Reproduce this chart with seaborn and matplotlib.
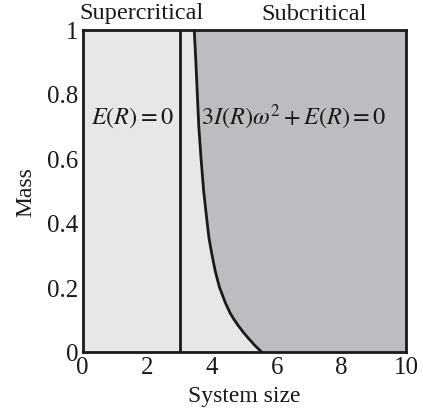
import matplotlib
matplotlib.use("Agg")
import matplotlib.pyplot as plt
import seaborn as sns
import numpy as np
import pandas as pd

# Boundary curve (subcritical limit): 3I(R)w^2 + E(R) = 0
curve_mass = [1.0, 0.9, 0.8, 0.7, 0.6, 0.5, 0.4, 0.35, 0.3, 0.25, 0.2, 0.15, 0.12,
              0.1, 0.08, 0.06, 0.04, 0.02, 0.01, 0.0]
curve_size = [3.45, 3.50, 3.545, 3.59, 3.66, 3.74, 3.85, 3.91, 4.00, 4.10, 4.23, 4.42, 4.56,
              4.68, 4.82, 4.97, 5.14, 5.32, 5.42, 5.53]
# Supercritical boundary E(R) = 0
vline_size = 3.0

x_ticks = [0, 2, 4, 6, 8, 10]
y_ticks = [0, 0.2, 0.4, 0.6, 0.8, 1]
y_tick_labels = ["0", "0.2", "0.4", "0.6", "0.8", "1"]
region_titles = ["Supercritical", "Subcritical"]
xlabel = "System size"
ylabel = "Mass"

sns.set_theme(style="white")
plt.rcParams['font.family'] = ['Liberation Serif', 'DejaVu Serif']
plt.rcParams['mathtext.fontset'] = 'stix'

fig = plt.figure(figsize=(4.23, 4.10), dpi=100)
ax = fig.add_axes([82.7/423, 1 - 352.7/410, 323.3/423, 322.2/410])

light = "#e6e7e9"
dark = "#bcbdc0"
ax.set_facecolor(light)

df = pd.DataFrame({"size": curve_size, "mass": curve_mass})
ax.fill_betweenx(df["mass"], df["size"], 10, color=dark, lw=0)
sns.lineplot(data=df, x="size", y="mass", sort=False, estimator=None,
             color="#1a1a1a", lw=2.0, ax=ax)
ax.axvline(vline_size, color="#1a1a1a", lw=2.0)

ax.set_xlim(0, 10)
ax.set_ylim(0, 1)
ax.set_xticks(x_ticks)
ax.set_xticklabels([str(t) for t in x_ticks])
ax.set_yticks(y_ticks)
ax.set_yticklabels(y_tick_labels)
ax.tick_params(direction="in", length=6, width=1.0, color="#3c3c9c",
               labelsize=18, labelcolor="#1a1a1a", pad=3)
for s in ax.spines.values():
    s.set_color("#1a1a1a")
    s.set_linewidth(2.0)

ax.set_xlabel(xlabel, fontsize=17, color="#1a1a1a", labelpad=5)
ax.set_ylabel(ylabel, fontsize=17, color="#1a1a1a", labelpad=8)

ax.text(1.54, 0.73, r"$E(R)=0$", fontsize=17.5, ha="center", va="center", color="#1a1a1a")
ax.text(6.54, 0.73, r"$3I(R)\omega^2+E(R)=0$", fontsize=17.5, ha="center", va="center", color="#1a1a1a")

fig.text(141.5/423, 1 - 14/410, region_titles[0], fontsize=17.5, ha="center", va="center", color="#1a1a1a")
fig.text(313.7/423, 1 - 14/410, region_titles[1], fontsize=17.5, ha="center", va="center", color="#1a1a1a")

fig.savefig("out.png", dpi=100)
